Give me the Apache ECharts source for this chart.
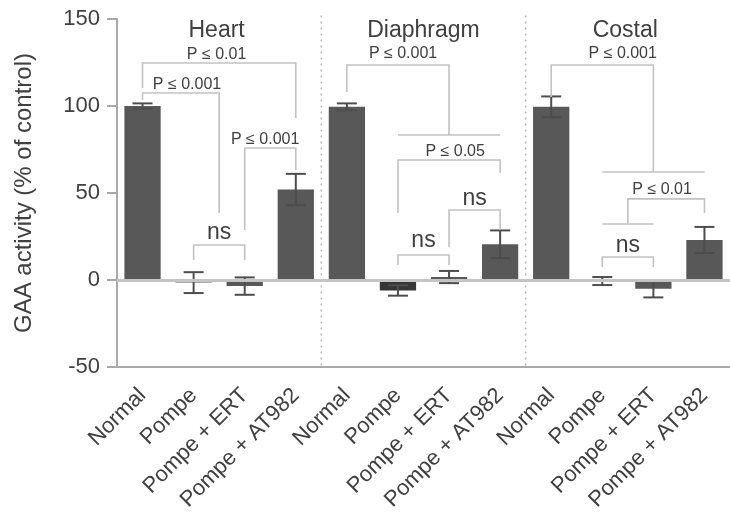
<!DOCTYPE html>
<html>
<head>
<meta charset="utf-8">
<script src="https://cdn.jsdelivr.net/npm/echarts@6/dist/echarts.min.js"></script>
<style>
  html, body { margin: 0; padding: 0; background: #ffffff; }
  #chart { width: 730px; height: 517px; }
</style>
</head>
<body>
<div id="chart"></div>
<script>
// GAA activity (% of control) per tissue and treatment group
const tissues = ['Heart', 'Diaphragm', 'Costal'];
const groups = ['Normal', 'Pompe', 'Pompe + ERT', 'Pompe + AT982'];
const categories = tissues.flatMap(() => groups);
const meanValues = [100, -1.5, -3.5, 52, 99.5, -6, 1.7, 20.5, 99.5, -0.6, -5, 23];
const errorValues = [1.5, 6, 5, 9, 2, 3, 3.5, 8, 6, 2.3, 5, 7.5];
const yTicks = { min: -50, max: 150, step: 50 };

// Significance brackets: [fromIndex, toIndex, topValue, leftLegEnd, rightLegEnd]
const brackets = [
  [0, 3, 124.7, 110.3, 93.1],
  [0, 1.5, 107.5, 103.4, 38.5],
  [2, 3, 75.9, 28.7, 63.2],
  [1, 2, 20.1, 11.5, 11.5],
  [4, 6, 123.6, 108, 83.3],
  [5, 7, 83.3, 83.3, 83.3],
  [5, 7, 69, 38.5, 61.5],
  [6, 7, 40.2, 19, 28.7],
  [5, 6, 14.4, 8.6, 8.6],
  [8, 10, 123.6, 105.2, 62.1],
  [9, 11, 62.1, 62.1, 62.1],
  [9.5, 11, 46.6, 32.2, 38.5],
  [9, 10, 32.2, 32.2, 32.2],
  [9, 10, 13.2, 7.5, 7.5]
];
// Bracket annotations: [xIndex, value, text]
const bracketLabels = [
  [1.45, 129.8, 'P \u2264 0.01'],
  [0.87, 112.3, 'P \u2264 0.001'],
  [2.4, 80.9, 'P \u2264 0.001'],
  [1.5, 27, 'ns'],
  [5.1, 130.3, 'P \u2264 0.001'],
  [6.12, 74, 'P \u2264 0.05'],
  [6.5, 46.5, 'ns'],
  [5.5, 22.4, 'ns'],
  [9.4, 130.3, 'P \u2264 0.001'],
  [10.17, 52.2, 'P \u2264 0.01'],
  [9.5, 19.5, 'ns']
];
// Tissue headings: [xIndex, value]
const tissueTitlePos = [[1.45, 143.2], [5.5, 143.2], [9.45, 143.2]];
// Panel separators between tissues (x in category index units)
const separators = [3.5, 7.5];

const FONT = '"Liberation Sans", Arial, sans-serif';
const TEXT = '#404040';
const AXIS = '#a9a9a9';
const BRACKET = '#c2c2c2';

const chart = echarts.init(document.getElementById('chart'), null, { renderer: 'canvas' });

chart.setOption({
  animation: false,
  backgroundColor: '#ffffff',
  grid: { left: 117, right: -9, top: 19, bottom: 150 },
  xAxis: [
    {
      type: 'category',
      data: categories,
      axisLine: { onZero: false, lineStyle: { color: AXIS, width: 2 } },
      axisTick: { alignWithLabel: true, length: 9, lineStyle: { color: AXIS, width: 2 } },
      axisLabel: {
        interval: 0, rotate: 45, margin: 25,
        fontFamily: FONT, fontSize: 22, color: TEXT
      }
    },
    { type: 'value', min: -0.5, max: 11.5, show: false }
  ],
  yAxis: {
    type: 'value',
    min: yTicks.min, max: yTicks.max, interval: yTicks.step,
    name: 'GAA activity (% of control)',
    nameLocation: 'middle', nameGap: 81,
    nameTextStyle: { fontFamily: FONT, fontSize: 24, color: TEXT },
    axisLine: { show: true, onZero: false, lineStyle: { color: AXIS, width: 2 } },
    axisTick: { show: true, length: 10, lineStyle: { color: AXIS, width: 2 } },
    axisLabel: { margin: 17, fontFamily: FONT, fontSize: 22, color: TEXT },
    splitLine: { show: false }
  },
  series: [
    {
      // panel separators
      type: 'custom', xAxisIndex: 1, z: 1, silent: true,
      data: separators.map(s => [s]),
      renderItem: (params, api) => {
        const top = api.coord([api.value(0), 152]);
        const bot = api.coord([api.value(0), yTicks.min]);
        return {
          type: 'line',
          shape: { x1: top[0], y1: top[1], x2: bot[0], y2: bot[1] },
          style: { stroke: '#b5b5b5', lineWidth: 1.5, lineDash: [2, 4] }
        };
      }
    },
    {
      type: 'bar', xAxisIndex: 0, z: 2,
      barWidth: '71%',
      data: meanValues,
      itemStyle: {
        color: p => (p.dataIndex === 5 ? '#363636' : '#585858')
      },
      markLine: {
        silent: true, symbol: 'none',
        label: { show: false },
        lineStyle: { color: '#c4c4c4', width: 3, type: 'solid' },
        data: [{ yAxis: 0 }]
      }
    },
    {
      // error bars
      type: 'custom', xAxisIndex: 1, z: 3, silent: true,
      data: meanValues.map((m, i) => [i, m, errorValues[i]]),
      renderItem: (params, api) => {
        const x = api.value(0), m = api.value(1), e = api.value(2);
        const hi = api.coord([x, m + e]);
        const lo = api.coord([x, m - e]);
        const half = 10;
        const st = { stroke: '#4d4d4d', lineWidth: 2 };
        return {
          type: 'group',
          children: [
            { type: 'line', shape: { x1: hi[0], y1: hi[1], x2: lo[0], y2: lo[1] }, style: st },
            { type: 'line', shape: { x1: hi[0] - half, y1: hi[1], x2: hi[0] + half, y2: hi[1] }, style: st },
            { type: 'line', shape: { x1: lo[0] - half, y1: lo[1], x2: lo[0] + half, y2: lo[1] }, style: st }
          ]
        };
      }
    },
    {
      // significance brackets
      type: 'custom', xAxisIndex: 1, z: 4, silent: true,
      data: brackets,
      renderItem: (params, api) => {
        const x1 = api.value(0), x2 = api.value(1), t = api.value(2);
        const pts = [
          api.coord([x1, api.value(3)]),
          api.coord([x1, t]),
          api.coord([x2, t]),
          api.coord([x2, api.value(4)])
        ];
        return {
          type: 'polyline',
          shape: { points: pts },
          style: { stroke: BRACKET, lineWidth: 1.6, fill: null }
        };
      }
    },
    {
      // bracket annotations
      type: 'custom', xAxisIndex: 1, z: 5, silent: true,
      data: bracketLabels.map(d => [d[0], d[1]]),
      renderItem: (params, api) => {
        const p = api.coord([api.value(0), api.value(1)]);
        const txt = bracketLabels[params.dataIndex][2];
        const isNs = txt === 'ns';
        return {
          type: 'text',
          x: p[0], y: p[1],
          style: {
            text: txt,
            fontFamily: FONT,
            fontSize: isNs ? 23 : 16,
            fill: TEXT,
            align: 'center',
            verticalAlign: 'middle'
          }
        };
      }
    },
    {
      // tissue headings
      type: 'custom', xAxisIndex: 1, z: 5, silent: true,
      data: tissueTitlePos,
      renderItem: (params, api) => {
        const p = api.coord([api.value(0), api.value(1)]);
        return {
          type: 'text',
          x: p[0], y: p[1],
          style: {
            text: tissues[params.dataIndex],
            fontFamily: FONT, fontSize: 23, fill: TEXT,
            align: 'center', verticalAlign: 'middle'
          }
        };
      }
    }
  ]
});
</script>
</body>
</html>
